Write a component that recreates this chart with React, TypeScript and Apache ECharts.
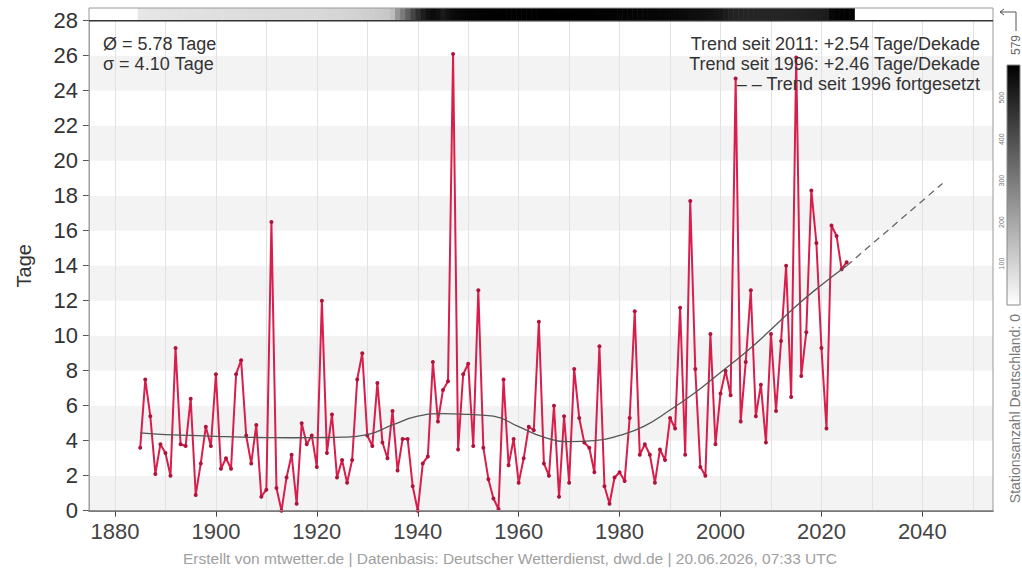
import React, { useEffect, useRef } from "react";
import * as echarts from "echarts";

// ---------- data ----------
const firstYear = 1885;
const days = [
  3.6, 7.5, 5.4, 2.1, 3.8, // 1885-1889
  3.3, 2.0, 9.3, 3.8, 3.7, 6.4, 0.9, 2.7, 4.8, 3.7, // 1890s
  7.8, 2.4, 3.0, 2.4, 7.8, 8.6, 4.3, 2.7, 4.9, 0.8, // 1900s
  1.2, 16.5, 1.3, 0.0, 1.9, 3.2, 0.4, 5.0, 3.8, 4.3, // 1910s
  2.5, 12.0, 3.3, 5.5, 1.9, 2.9, 1.6, 2.9, 7.5, 9.0, // 1920s
  4.3, 3.7, 7.3, 3.9, 3.0, 5.7, 2.3, 4.1, 4.1, 1.4, // 1930s
  0.0, 2.7, 3.1, 8.5, 5.1, 6.9, 7.4, 26.1, 3.5, 7.8, // 1940s
  8.4, 3.7, 12.6, 3.6, 1.8, 0.7, 0.1, 7.5, 2.6, 4.1, // 1950s
  1.6, 3.0, 4.8, 4.6, 10.8, 2.7, 2.0, 6.0, 0.8, 5.4, // 1960s
  1.6, 8.1, 5.3, 3.9, 3.6, 2.2, 9.4, 1.4, 0.4, 1.9, // 1970s
  2.2, 1.7, 5.3, 11.4, 3.2, 3.8, 3.2, 1.6, 3.5, 2.9, // 1980s
  5.3, 4.7, 11.6, 3.2, 17.7, 8.1, 2.5, 2.0, 10.1, 3.8, // 1990s
  6.7, 8.0, 6.6, 24.7, 5.1, 8.5, 12.6, 5.4, 7.2, 3.9, // 2000s
  10.1, 5.7, 9.7, 14.0, 6.5, 25.9, 7.7, 10.2, 18.3, 15.3, // 2010s
  9.3, 4.7, 16.3, 15.7, 13.8, 14.2, // 2020-2025
];
const currentYear = 2026;
const currentValue = 3.66;

const trendYears = [1885, 1890, 1895, 1900, 1905, 1910, 1915, 1920, 1925, 1930, 1935, 1940, 1945, 1950, 1955, 1960, 1965, 1970, 1975, 1980, 1985, 1990, 1995, 2000, 2005, 2010, 2015, 2020, 2025];
const trendValues = [4.45, 4.35, 4.3, 4.25, 4.2, 4.18, 4.17, 4.18, 4.2, 4.35, 4.9, 5.4, 5.55, 5.5, 5.4, 4.8, 4.2, 3.95, 4.0, 4.3, 4.85, 5.75, 6.75, 7.9, 9.05, 10.35, 11.7, 12.9, 14.0];
const extYears = [2025, 2044];
const extValues = [14.0, 18.7];

const stationFirstYear = 1885;
const stations = [
  55, 57, 58, 60, 61, 62, 63, 64, 65, 66,
  67, 68, 69, 70, 71, 72, 73, 74, 75, 76,
  77, 78, 79, 80, 80, 81, 82, 82, 83, 84,
  84, 85, 85, 86, 86, 87, 88, 90, 92, 94,
  96, 98, 100, 103, 106, 110, 114, 118, 122, 128,
  150, 240, 300, 360, 420, 470, 510, 540, 555, 545,
  520, 540, 555, 560, 565, 568, 570, 572, 573, 574,
  575, 575, 576, 576, 577, 577, 578, 578, 578, 578,
  578, 578, 578, 577, 577, 576, 576, 575, 575, 574,
  574, 573, 573, 572, 572, 571, 570, 570, 569, 568,
  567, 566, 565, 564, 562, 560, 558, 556, 553, 550,
  548, 545, 542, 538, 534, 530, 515, 505, 500, 498,
  496, 495, 494, 494, 494, 495, 495, 496, 497, 498,
  500, 502, 504, 506, 508, 510, 515, 560, 570, 575,
  578, 579,
];
const stationMax = 579;
const stationTicks = [100, 200, 300, 400, 500];

const xTicks = [1880, 1900, 1920, 1940, 1960, 1980, 2000, 2020, 2040];
const gridDecades = [1880, 1890, 1900, 1910, 1920, 1930, 1940, 1950, 1960, 1970, 1980, 1990, 2000, 2010, 2020, 2030, 2040, 2050];

const statLines = ["Ø = 5.78 Tage", "σ = 4.10 Tage"];
const trendLines = [
  "Trend seit 2011: +2.54 Tage/Dekade",
  "Trend seit 1996: +2.46 Tage/Dekade",
  "– – Trend seit 1996 fortgesetzt",
];
const footer = "Erstellt von mtwetter.de | Datenbasis: Deutscher Wetterdienst, dwd.de | 20.06.2026, 07:33 UTC";

// ---------- layout ----------
const W = 1022;
const H = 573;
const GL = 89;
const GR = 993;
const GT = 20.7;
const GB = 510.7;
const XMIN = 1874.85;
const XMAX = 2054;
const FONT = "Liberation Sans, Arial, sans-serif";
const RED = "#d81e4a";

export default function App() {
  const ref = useRef<HTMLDivElement>(null);

  useEffect(() => {
    if (!ref.current) return;
    const chart = echarts.init(ref.current, undefined, { renderer: "svg" });

    const redData = days.map((v, i) => [firstYear + i, v]);
    const trendData = trendYears.map((y, i) => [y, trendValues[i]]);
    const extData = extYears.map((y, i) => [y, extValues[i]]);
    const stationData = stations.map((c, i) => [stationFirstYear + i, 1, c]);

    const cbX = 1007, cbY = 65, cbW = 13, cbH = 240;

    const graphics: any[] = [
      // frame
      { type: "rect", z: 100, silent: true, shape: { x: GL, y: 8, width: GR - GL, height: GB - 8 }, style: { fill: "none", stroke: "#999", lineWidth: 1 } },
      { type: "line", z: 101, silent: true, shape: { x1: GL, y1: GT, x2: GR, y2: GT }, style: { stroke: "#333", lineWidth: 1.5 } },
      // stats
      ...statLines.map((t, i) => ({ type: "text", z: 102, x: 103, y: 44 + i * 20, style: { text: t, font: `18px ${FONT}`, fill: "#333", textAlign: "left", textVerticalAlign: "middle" } })),
      ...trendLines.map((t, i) => ({ type: "text", z: 102, x: 980, y: 44 + i * 20, style: { text: t, font: `18px ${FONT}`, fill: "#333", textAlign: "right", textVerticalAlign: "middle" } })),
      // footer
      { type: "text", z: 102, x: 510, y: 558, style: { text: footer, font: `15.5px ${FONT}`, fill: "#a0a0a0", textAlign: "center", textVerticalAlign: "middle" } },
      // colorbar
      {
        type: "rect", z: 102, shape: { x: cbX, y: cbY, width: cbW, height: cbH },
        style: {
          fill: new echarts.graphic.LinearGradient(0, 0, 0, 1, [{ offset: 0, color: "#000" }, { offset: 1, color: "#fff" }]),
          stroke: "#888", lineWidth: 1,
        },
      },
      ...stationTicks.map((v) => ({
        type: "text", z: 102, x: 1001, y: cbY + cbH - (v / stationMax) * cbH, rotation: Math.PI / 2,
        style: { text: String(v), font: `7px ${FONT}`, fill: "#777", textAlign: "center", textVerticalAlign: "middle" },
      })),
      { type: "text", z: 102, x: 1016, y: 45, rotation: Math.PI / 2, style: { text: String(stationMax), font: `12px ${FONT}`, fill: "#666", textAlign: "center", textVerticalAlign: "middle" } },
      { type: "text", z: 102, x: 1015, y: 314, rotation: Math.PI / 2, style: { text: "Stationsanzahl Deutschland: 0", font: `14px ${FONT}`, fill: "#777", textAlign: "right", textVerticalAlign: "middle" } },
      { type: "polyline", z: 102, shape: { points: [[1016, 31], [1016, 12], [1000, 12]] }, style: { stroke: "#555", lineWidth: 1, fill: "none" } },
      { type: "polyline", z: 102, shape: { points: [[1004, 9], [1000, 12], [1004, 15]] }, style: { stroke: "#555", lineWidth: 1, fill: "none" } },
    ];

    chart.setOption({
      animation: false,
      backgroundColor: "#fff",
      textStyle: { fontFamily: FONT },
      grid: [
        { left: GL, right: W - GR, top: GT, bottom: H - GB, containLabel: false },
        { left: GL, right: W - GR, top: 8, height: GT - 8 },
      ],
      xAxis: [
        {
          type: "value", min: XMIN, max: XMAX,
          axisLine: { show: true, onZero: false, lineStyle: { color: "#444", width: 1.6 } },
          axisTick: { show: true, length: 6, customValues: xTicks, lineStyle: { color: "#444" } },
          axisLabel: { customValues: xTicks, fontSize: 22, color: "#444", margin: 10, fontFamily: FONT, formatter: (v: number) => String(Math.round(v)) },
          splitLine: { show: false },
        },
        { type: "value", gridIndex: 1, min: XMIN, max: XMAX, show: false },
      ],
      yAxis: [
        {
          type: "value", min: 0, max: 28, interval: 2,
          name: "Tage", nameLocation: "middle", nameGap: 55,
          nameTextStyle: { fontSize: 20, color: "#333", fontFamily: FONT },
          axisLine: { show: true, lineStyle: { color: "#aaa" } },
          axisTick: { show: true, length: 6, lineStyle: { color: "#555" } },
          axisLabel: { fontSize: 22, color: "#333", margin: 11, fontFamily: FONT },
          splitLine: { show: false },
          splitArea: { show: true, areaStyle: { color: ["#f3f3f3", "#ffffff"] } },
        },
        { type: "value", gridIndex: 1, min: 0, max: 1, show: false },
      ],
      visualMap: {
        show: false, type: "continuous", min: 0, max: stationMax, dimension: 2, seriesIndex: 5,
        inRange: { color: ["#ffffff", "#000000"] },
      },
      series: [
        {
          type: "line", data: [], z: 1, silent: true,
          markLine: {
            z: 1, silent: true, symbol: ["none", "none"], label: { show: false },
            lineStyle: { color: "#e2e2e2", width: 1, type: "solid" },
            data: gridDecades.map((d) => ({ xAxis: d })),
          },
        },
        {
          type: "line", data: trendData, smooth: 0.5, symbol: "none", z: 4, silent: true,
          lineStyle: { color: "#555", width: 1.3 },
        },
        {
          type: "line", data: extData, symbol: "none", z: 4, silent: true,
          lineStyle: { color: "#666", width: 1.3, type: [7, 5] },
        },
        {
          type: "line", data: redData, symbol: "circle", symbolSize: 4, z: 3,
          lineStyle: { color: RED, width: 2 },
          itemStyle: { color: "#b0143c" },
        },
        {
          type: "scatter", data: [[currentYear, currentValue]], symbol: "emptyCircle", symbolSize: 8, z: 5,
          itemStyle: { color: "#fff", borderColor: RED, borderWidth: 1.2 },
        },
        {
          type: "custom", xAxisIndex: 1, yAxisIndex: 1, data: stationData,
          encode: { x: 0, y: 1 },
          renderItem: (params: any, api: any) => {
            const yr = api.value(0);
            const p0 = api.coord([yr - 0.5, 1]);
            const p1 = api.coord([yr + 0.5, 0]);
            return {
              type: "rect",
              shape: { x: p0[0], y: p0[1], width: p1[0] - p0[0] + 0.6, height: p1[1] - p0[1] },
              style: { fill: api.visual("color") },
            };
          },
        },
      ],
      graphic: graphics,
    });

    return () => chart.dispose();
  }, []);

  return <div ref={ref} style={{ position: "fixed", left: 0, top: 0, width: W, height: H }} />;
}
